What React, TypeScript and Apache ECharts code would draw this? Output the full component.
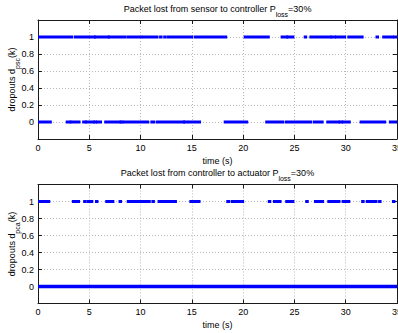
import React, { useEffect, useRef } from "react";
import * as echarts from "echarts";

// time range and tick labels
const xMin = 0;
const xMax = 35;
const xInterval = 5;
const yMin = -0.2;
const yMax = 1.2;
const yInterval = 0.2;

// Top plot: sensor -> controller dropouts, runs of samples [start s, end s]
const sensorOnes: [number, number][] = [
  [0, 3.3], [3.65, 5.5], [5.6, 6.85], [6.95, 8.45], [8.75, 10.1], [10.35, 11.6],
  [11.95, 12.0], [12.35, 12.4], [12.7, 15.0], [15.35, 18.3], [20.2, 22.45],
  [23.8, 24.25], [24.35, 24.85], [26.05, 26.1], [26.6, 28.5], [28.65, 28.9],
  [29.1, 29.9], [30.3, 31.6], [33.05, 33.1], [33.7, 34.55], [34.75, 35],
];
const sensorZeros: [number, number][] = [
  [0, 1.2], [2.85, 3.1], [3.25, 4.0], [4.45, 4.6], [4.75, 5.4], [5.55, 5.6],
  [5.8, 6.1], [6.6, 8.0], [8.1, 8.2], [8.4, 10.7], [11.1, 11.3], [11.65, 14.2],
  [14.3, 14.5], [14.75, 15.75], [18.25, 20.35], [22.3, 23.85], [24.2, 26.6],
  [26.95, 27.7], [28.25, 29.3], [29.45, 29.6], [29.75, 30.35], [31.5, 33.8],
  [34.35, 35],
];

// Bottom plot: controller -> actuator dropouts
const actuatorOnes: [number, number][] = [
  [0, 1.05], [3.45, 3.95], [4.55, 4.6], [4.9, 5.25], [5.7, 5.75], [6.7, 6.9],
  [7.15, 7.3], [8.0, 8.05], [8.8, 10.85], [11.2, 11.25], [11.8, 12.2],
  [12.35, 12.95], [13.1, 13.4], [14.9, 15.7], [18.5, 18.6], [18.95, 19.95],
  [22.55, 22.6], [23.05, 23.6], [24.25, 24.85], [26.2, 26.25], [27.05, 27.75],
  [28.35, 29.05], [29.3, 29.35], [29.75, 30.3], [31.65, 31.7], [32.1, 32.95],
  [33.3, 33.35], [34.65, 34.7],
];
const actuatorZeros: [number, number][] = [[0, 35]];

const FONT = "'Liberation Sans', Arial, Helvetica, sans-serif";
const BLUE = "#0000ff";

function runSeries(runs: [number, number][], level: number, axisIdx: number, thick: number) {
  return {
    type: "custom",
    xAxisIndex: axisIdx,
    yAxisIndex: axisIdx,
    clip: true,
    encode: { x: [0, 1], y: 2 },
    data: runs.map(([s, e]) => [s, e, level]),
    renderItem: (_params: any, api: any) => {
      const p0 = api.coord([api.value(0), api.value(2)]);
      const p1 = api.coord([api.value(1), api.value(2)]);
      return {
        type: "rect",
        shape: { x: p0[0] - 1.5, y: p0[1] - thick / 2, width: p1[0] - p0[0] + 3, height: thick },
        style: { fill: BLUE },
      };
    },
  };
}

function yLabel(v: number) {
  if (v < -0.01 || v > 1.01) return "";
  if (Math.abs(v - Math.round(v)) < 1e-6) return String(Math.round(v));
  return v.toFixed(1);
}

const axisLineStyle = { color: "#1a1a1a", width: 1 };
const splitStyle = { color: "#b8b8b8", type: [1, 2] as any, width: 1 };

function xAxes(gridIndex: number) {
  return [
    {
      type: "value", gridIndex, position: "bottom", min: xMin, max: xMax, interval: xInterval,
      axisLine: { show: true, onZero: false, lineStyle: axisLineStyle },
      axisTick: { show: true, inside: true, length: 4, lineStyle: axisLineStyle },
      axisLabel: { color: "#000", fontSize: 9, fontFamily: FONT, margin: 4, showMaxLabel: true, showMinLabel: true },
      splitLine: { show: true, lineStyle: splitStyle },
      name: "time (s)", nameLocation: "middle", nameGap: 17, nameMoveOverlap: false,
      nameTextStyle: { color: "#000", fontSize: 9, fontFamily: FONT },
    },
    {
      type: "value", gridIndex, position: "top", min: xMin, max: xMax, interval: xInterval,
      axisLine: { show: true, onZero: false, lineStyle: axisLineStyle },
      axisTick: { show: true, inside: true, length: 4, lineStyle: axisLineStyle },
      axisLabel: { show: false },
      splitLine: { show: false },
    },
  ];
}

function yAxes(gridIndex: number, sub: string) {
  return [
    {
      type: "value", gridIndex, position: "left", min: yMin, max: yMax, interval: yInterval,
      axisLine: { show: true, onZero: false, lineStyle: axisLineStyle },
      axisTick: { show: true, inside: true, length: 4, lineStyle: axisLineStyle },
      axisLabel: { color: "#000", fontSize: 9, fontFamily: FONT, margin: 4, formatter: yLabel, showMinLabel: true, showMaxLabel: true },
      splitLine: { show: true, lineStyle: splitStyle },
      name: `{a|dropouts d}{s|${sub}}{a|(k)}`, nameLocation: "middle", nameGap: 17, nameRotate: 90,
      nameMoveOverlap: false,
      nameTextStyle: {
        color: "#000", fontFamily: FONT,
        rich: {
          a: { fontSize: 9, fontFamily: FONT, color: "#000", lineHeight: 14, verticalAlign: "top" },
          s: { fontSize: 7, fontFamily: FONT, color: "#000", lineHeight: 14, verticalAlign: "bottom" },
        },
      },
    },
    {
      type: "value", gridIndex, position: "right", min: yMin, max: yMax, interval: yInterval,
      axisLine: { show: true, onZero: false, lineStyle: axisLineStyle },
      axisTick: { show: true, inside: true, length: 4, lineStyle: axisLineStyle },
      axisLabel: { show: false },
      splitLine: { show: false },
    },
  ];
}

function titleText(text: string, y: number) {
  const [before, after] = text.split("|");
  return {
    type: "text",
    x: 217.5,
    y,
    style: {
      text: `{a|${before}}{s|loss}{a|${after}}`,
      align: "center",
      verticalAlign: "middle",
      rich: {
        a: { fontSize: 9, fontFamily: FONT, fill: "#000", lineHeight: 14, verticalAlign: "top" },
        s: { fontSize: 7, fontFamily: FONT, fill: "#000", lineHeight: 14, verticalAlign: "bottom" },
      },
    },
  };
}

export default function App() {
  const ref = useRef<HTMLDivElement>(null);
  useEffect(() => {
    if (!ref.current) return;
    const chart = echarts.init(ref.current, undefined, { renderer: "svg" });
    const option: any = {
      animation: false,
      backgroundColor: "#ffffff",
      textStyle: { fontFamily: FONT },
      grid: [
        { left: 38, top: 20, width: 359, height: 119, containLabel: false, outerBoundsMode: "none" },
        { left: 38, top: 184.5, width: 359, height: 119, containLabel: false, outerBoundsMode: "none" },
      ],
      xAxis: [...xAxes(0), ...xAxes(1)],
      yAxis: [...yAxes(0, "psc"), ...yAxes(1, "pca")],
      graphic: [
        titleText("Packet lost from sensor to controller P|=30%", 11),
        titleText("Packet lost from controller to actuator P|=30%", 175),
      ],
      series: [
        runSeries(sensorOnes, 1, 0, 3),
        runSeries(sensorZeros, 0, 0, 3),
        runSeries(actuatorOnes, 1, 2, 3),
        runSeries(actuatorZeros, 0, 2, 3.5),
      ],
    };
    chart.setOption(option);
    return () => chart.dispose();
  }, []);
  return (
    <div
      ref={ref}
      style={{ position: "fixed", left: 0, top: 0, width: 398, height: 333, background: "#fff" }}
    />
  );
}
